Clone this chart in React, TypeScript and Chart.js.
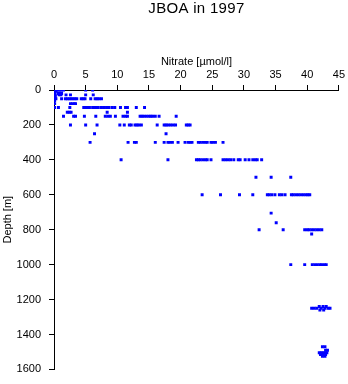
import { useEffect, useRef } from "react";
import { Chart, registerables } from "chart.js";

Chart.register(...registerables);

const titleText = "JBOA in 1997";
const xTitle = "Nitrate [µmol/l]";
const yTitle = "Depth [m]";

// Nitrate values (µmol/l) observed at each sampling depth (m)
const n0 = [0.05, 0.2, 0.4, 0.6, 0.8, 1.0, 1.2, 1.5, 5.0, 6.1];
const n5 = [0.1, 0.3];
const n10 = [0.1, 0.2];
const n15 = [0.1];
const n20 = [0.1, 0.7, 0.9, 1.2];
const n28 = [0.2, 0.8, 1.1, 1.9, 2.6, 5.0, 6.2];
const n38 = [0.1, 0.2];
const n50 = [0.1, 0.3, 1.2, 1.8, 2.1, 2.4, 2.7, 3.0, 3.3, 3.6, 4.3, 4.6, 4.9, 5.8, 6.5, 6.8, 7.1, 7.5];
const n62 = [0.1];
const n78 = [0.1, 2.6, 2.9, 3.2, 3.4];
const n100 = [0.1, 0.7, 2.5, 4.7, 5.0, 5.3, 5.6, 6.1, 6.4, 6.7, 7.0, 7.5, 7.9, 8.3, 8.7, 9.2, 9.6, 10.5, 11.3, 11.6, 13.0, 14.3];
const n128 = [2.1, 2.4, 2.7, 8.4, 11.6];
const n150 = [1.5, 3.1, 3.4, 4.8, 6.6, 8.1, 8.5, 8.9, 9.7, 10.9, 11.3, 11.6, 13.6, 13.9, 14.2, 14.6, 15.0, 15.3, 15.6, 16.0, 16.6, 19.3];
const n200 = [2.6, 5.0, 6.8, 10.4, 11.1, 11.9, 12.2, 12.8, 13.1, 13.4, 13.8, 16.3, 17.4, 17.7, 18.0, 18.4, 18.8, 19.2, 20.9, 21.2, 21.5];
const n250 = [6.4, 17.7];
const n300 = [5.7, 11.7, 12.7, 13.0, 16.0, 17.4, 18.0, 18.3, 18.7, 19.6, 20.7, 21.2, 21.5, 21.8, 22.8, 23.1, 23.5, 23.9, 24.2, 24.8, 25.1, 25.5, 26.7];
const n400 = [10.6, 18.0, 22.5, 22.8, 23.1, 23.5, 23.9, 24.2, 24.8, 26.7, 27.1, 27.5, 27.9, 28.4, 29.1, 29.4, 30.2, 30.8, 31.4, 31.8, 32.1, 32.8];
const n500 = [31.9, 34.3, 37.4];
const n600 = [23.4, 26.3, 29.3, 31.4, 33.7, 34.0, 34.4, 34.9, 35.6, 36.0, 36.5, 37.5, 37.8, 38.2, 38.6, 39.0, 39.4, 39.8, 40.1, 40.4];
const n705 = [34.3];
const n760 = [35.1];
const n800 = [32.4, 36.2, 39.6, 40.0, 40.3, 40.7, 41.1, 41.5, 41.9, 42.3];
const n825 = [40.7];
const n1000 = [37.4, 39.6, 40.8, 41.2, 41.6, 42.0, 42.3, 42.7, 43.0];
const n1240 = [41.9, 42.5, 43.0];
const n1250 = [40.7, 41.1, 41.5, 42.2, 42.8, 43.3, 43.6];
const n1260 = [42.0, 42.6];
const n1470 = [42.4, 42.8];
const n1490 = [42.9, 43.2];
const n1505 = [41.9, 42.2, 42.5, 42.8, 43.1];
const n1515 = [42.1, 42.5, 42.9];
const n1525 = [42.4, 42.8];

const depthLevels = [0, 5, 10, 15, 20, 28, 38, 50, 62, 78, 100, 128, 150, 200, 250, 300, 400, 500, 600, 705, 760, 800, 825, 1000, 1240, 1250, 1260, 1470, 1490, 1505, 1515, 1525];
const nitrateByLevel = [n0, n5, n10, n15, n20, n28, n38, n50, n62, n78, n100, n128, n150, n200, n250, n300, n400, n500, n600, n705, n760, n800, n825, n1000, n1240, n1250, n1260, n1470, n1490, n1505, n1515, n1525];

const FONT = "'Liberation Sans', Arial, Helvetica, sans-serif";

const textPlugin = {
  id: "customText",
  afterDraw(chart: any) {
    const { ctx, chartArea } = chart;
    const cx = (chartArea.left + chartArea.right) / 2;
    const cy = (chartArea.top + chartArea.bottom) / 2;
    ctx.save();
    ctx.fillStyle = "#000";
    ctx.textAlign = "center";
    ctx.textBaseline = "alphabetic";
    ctx.font = `15px ${FONT}`;
    (ctx as any).letterSpacing = "0.3px";
    ctx.fillText(titleText, cx, 13);
    (ctx as any).letterSpacing = "0px";
    ctx.font = `11px ${FONT}`;
    ctx.fillText(xTitle, cx, 64.5);
    ctx.translate(11, cy - 10);
    ctx.rotate(-Math.PI / 2);
    ctx.fillText(yTitle, 0, 0);
    ctx.restore();
  },
};

export default function App() {
  const ref = useRef<HTMLCanvasElement>(null);
  useEffect(() => {
    const points = depthLevels.flatMap((d, i) =>
      nitrateByLevel[i].map((x) => ({ x, y: d }))
    );
    const chart = new Chart(ref.current!, {
      type: "scatter",
      data: {
        datasets: [
          {
            data: points,
            pointStyle: "rect",
            pointRadius: 2.1,
            pointHoverRadius: 2.1,
            backgroundColor: "#0000ff",
            borderColor: "#0000ff",
            borderWidth: 0,
          },
        ],
      },
      options: {
        animation: false,
        responsive: false,
        devicePixelRatio: 1,
        layout: { padding: { left: 0, top: 0, right: 9, bottom: 9 } },
        plugins: {
          legend: { display: false },
          tooltip: { enabled: false },
          title: { display: false },
        },
        scales: {
          x: {
            type: "linear",
            position: "top",
            min: 0,
            max: 45,
            ticks: {
              stepSize: 5,
              color: "#000",
              font: { family: FONT, size: 11 },
              padding: 3,
              maxRotation: 0,
              callback: (v: any) => String(v),
            },
            grid: { drawOnChartArea: false, drawTicks: true, tickLength: 5, color: "#000" },
            border: { display: true, color: "#000", width: 1 },
            afterFit: (s: any) => {
              s.height = 90;
            },
          },
          y: {
            type: "linear",
            reverse: true,
            min: 0,
            max: 1600,
            ticks: {
              stepSize: 200,
              color: "#000",
              font: { family: FONT, size: 11 },
              padding: 8,
              callback: (v: any) => String(v),
            },
            grid: { drawOnChartArea: false, drawTicks: true, tickLength: 5, color: "#000" },
            border: { display: true, color: "#000", width: 1 },
            afterFit: (s: any) => {
              s.width = 54;
            },
          },
        },
      },
      plugins: [textPlugin],
    });
    return () => chart.destroy();
  }, []);
  return (
    <div style={{ position: "absolute", left: 0, top: 0, width: 348, height: 384, background: "#fff" }}>
      <canvas ref={ref} width={348} height={384} style={{ display: "block" }} />
    </div>
  );
}
